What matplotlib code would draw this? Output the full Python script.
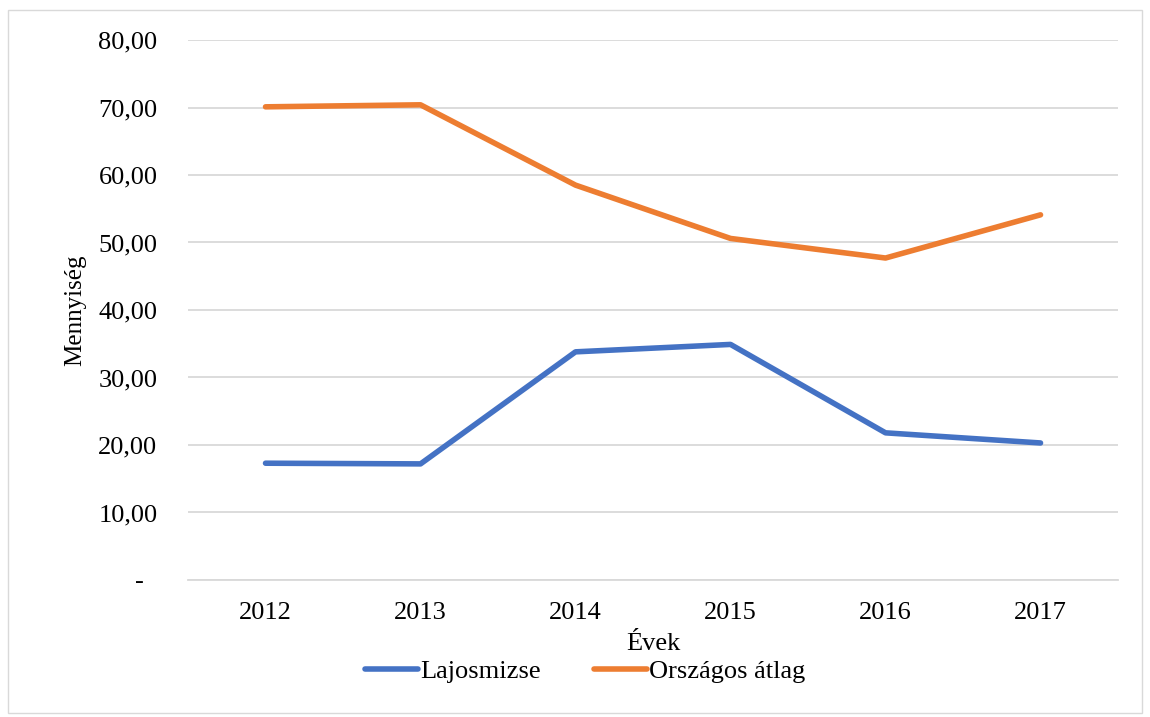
import matplotlib.pyplot as plt
from matplotlib.patches import Rectangle
from matplotlib.ticker import FuncFormatter

years = ["2012", "2013", "2014", "2015", "2016", "2017"]
lajosmizse = [17.3, 17.2, 33.8, 34.9, 21.8, 20.3]
orszagos = [70.1, 70.4, 58.5, 50.6, 47.7, 54.1]

plt.rcParams['font.family'] = ['Liberation Serif', 'DejaVu Serif']

fig = plt.figure(figsize=(11.5, 7.17), dpi=100)
ax = fig.add_axes([0.1635, 0.1911, 0.8087, 0.7531])

x = range(len(years))
ax.plot(x, lajosmizse, color="#4472C4", lw=4, solid_capstyle="round", label="Lajosmizse")
ax.plot(x, orszagos, color="#ED7D31", lw=4, solid_capstyle="round", label="Országos átlag")

ax.set_xlim(-0.5, len(years) - 0.5)
ax.set_ylim(0, 80)
ax.set_yticks(range(0, 81, 10))


def fmt(v, pos):
    # zero shown as an accounting-style dash
    if v == 0:
        return "-  "
    return f"{v:.2f}".replace(".", ",")


ax.yaxis.set_major_formatter(FuncFormatter(fmt))
ax.set_xticks(list(x))
ax.set_xticklabels(years)
ax.tick_params(axis="both", length=0, labelsize=19, colors="black")
ax.tick_params(axis="y", pad=22)
ax.tick_params(axis="x", pad=16)
ax.grid(axis="y", color="#D9D9D9", lw=1.3)
ax.set_axisbelow(True)
for s in ["top", "right", "left"]:
    ax.spines[s].set_visible(False)
ax.spines["bottom"].set_color("#D9D9D9")
ax.spines["bottom"].set_linewidth(1.3)

ax.set_ylabel("Mennyiség", fontsize=18, labelpad=9)
ax.set_xlabel("Évek", fontsize=19, labelpad=6)

fig.legend(loc="center", bbox_to_anchor=(0.509, 0.064), ncol=2, frameon=False,
           fontsize=19, handlelength=2.0, handletextpad=0.1, columnspacing=2.0)

fig.patches.append(Rectangle((0.007, 0.005), 0.986, 0.981, transform=fig.transFigure,
                             fill=False, edgecolor="#D9D9D9", lw=1))

fig.savefig("out.png", dpi=100)
